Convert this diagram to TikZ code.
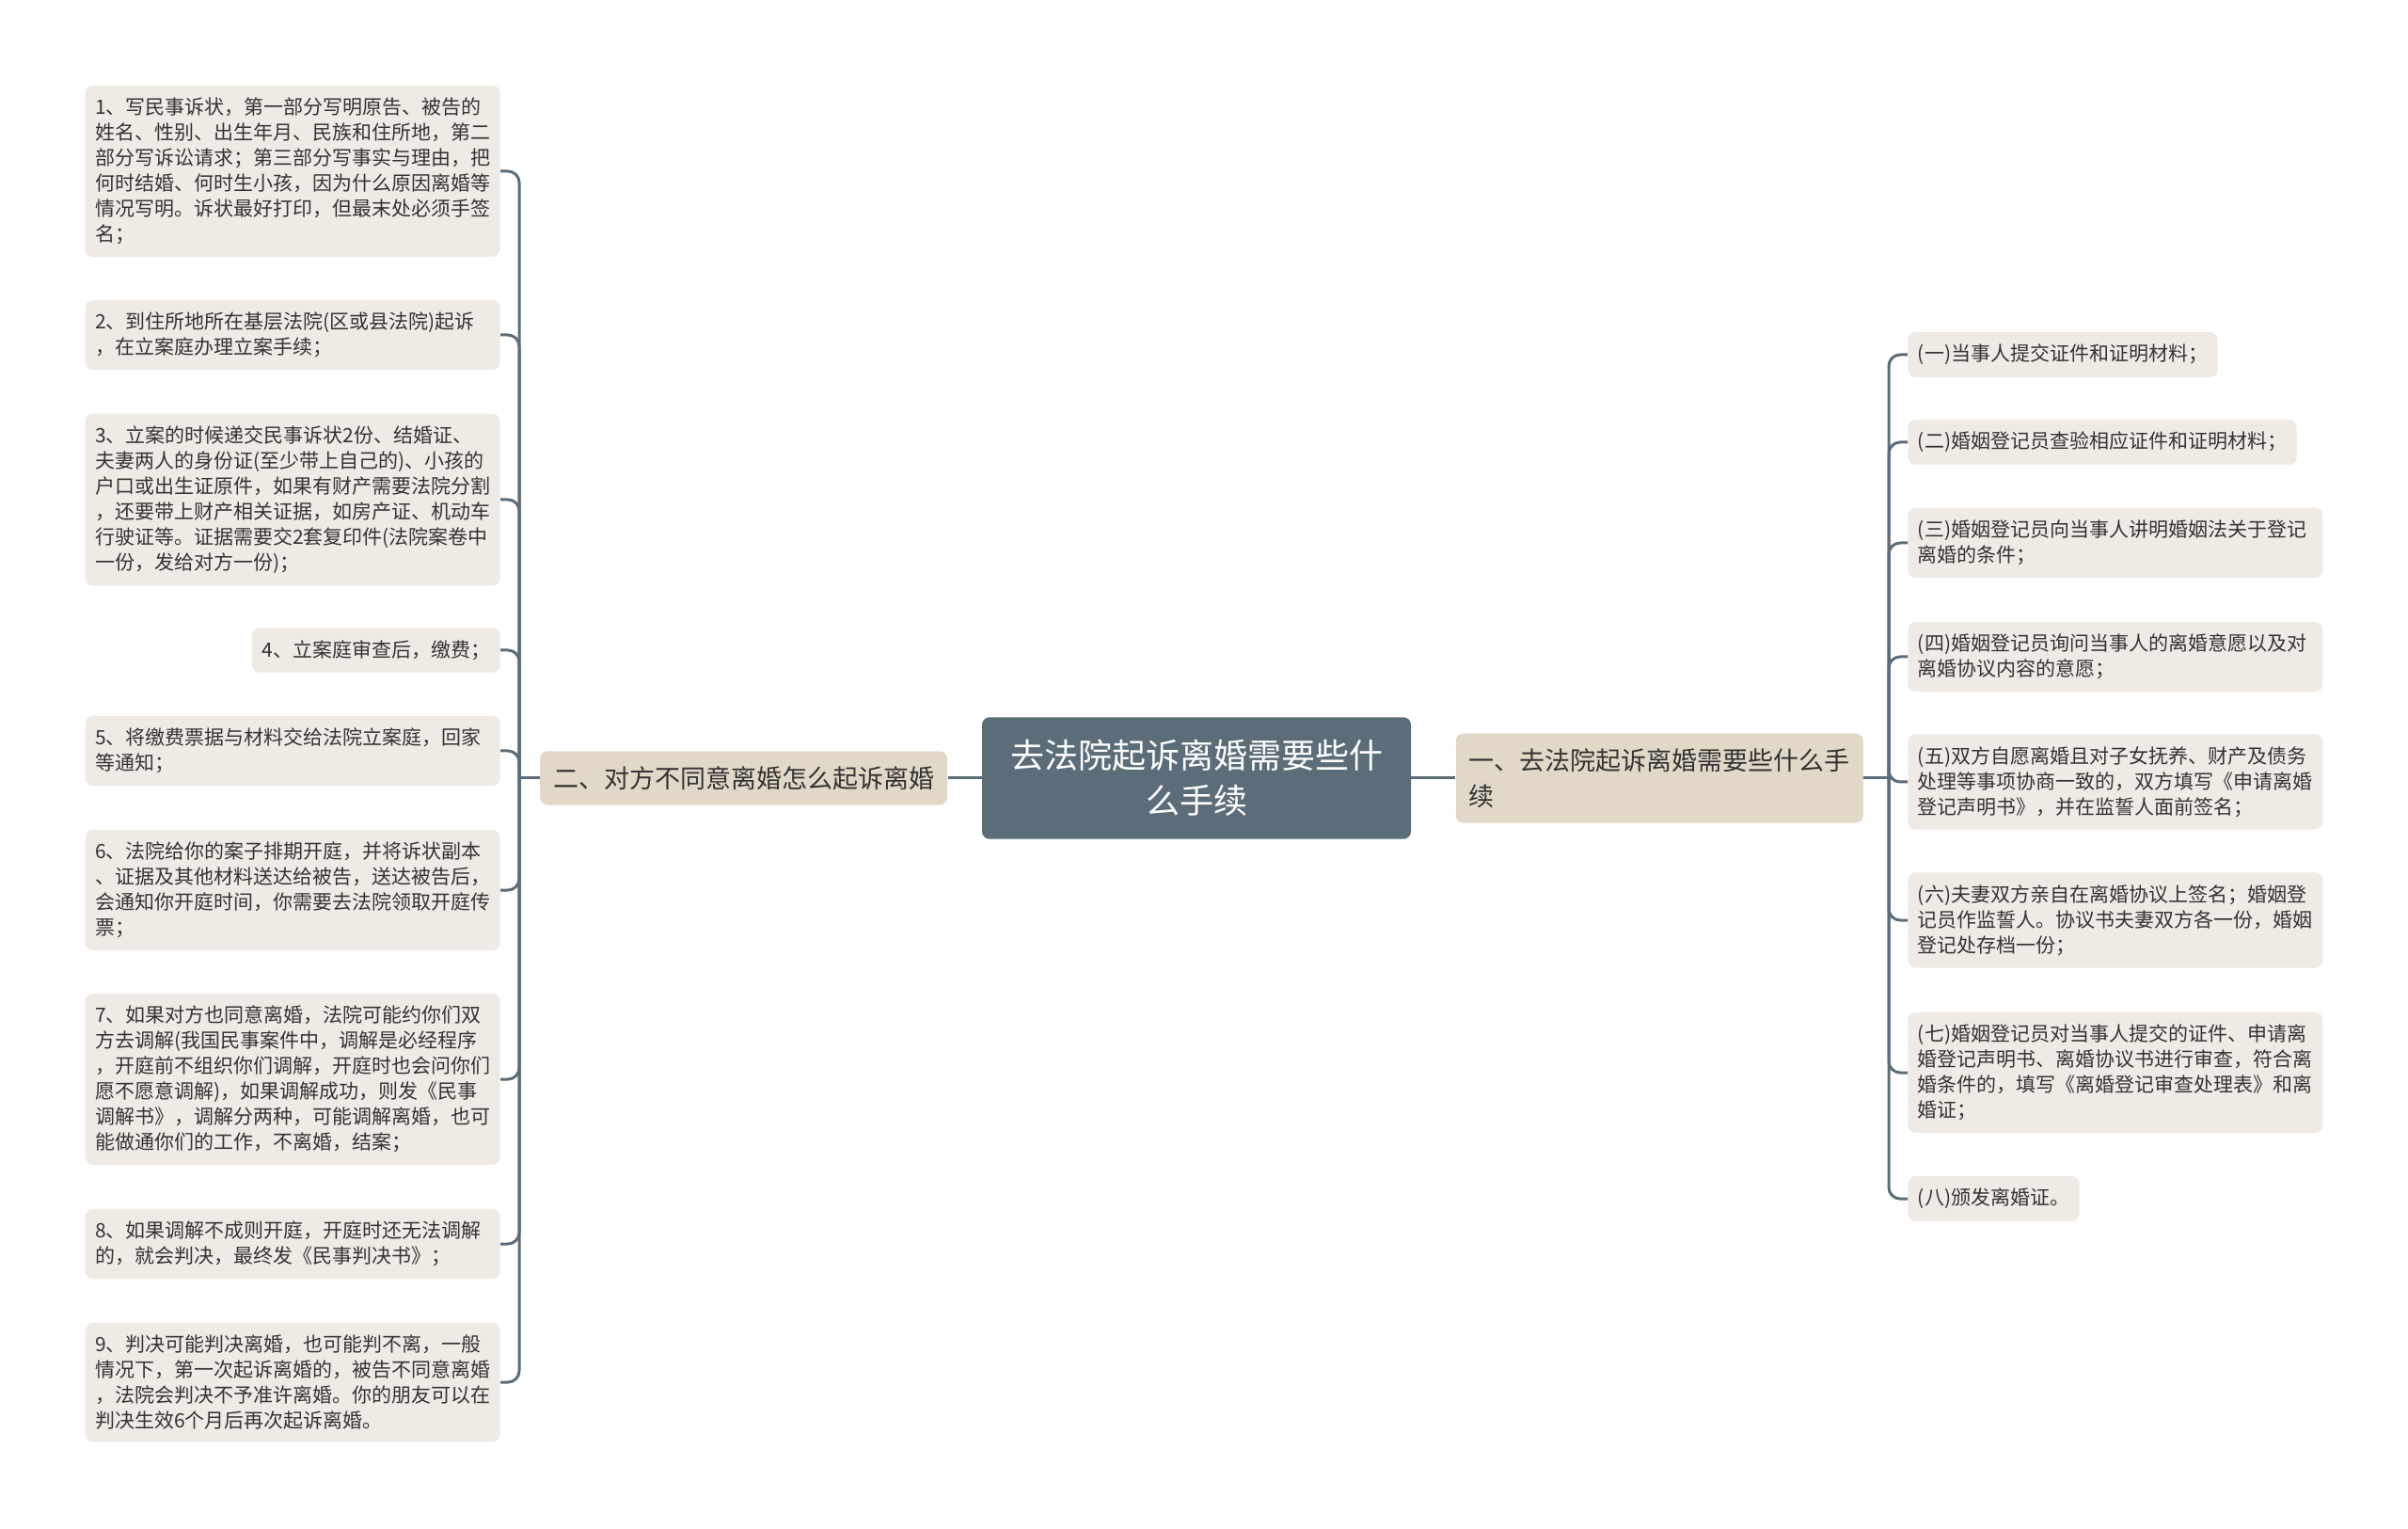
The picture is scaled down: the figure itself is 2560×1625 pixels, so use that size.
\documentclass[tikz,border=0pt]{standalone}
\usepackage{fontspec}
\setmainfont{Noto Sans CJK SC}
\usepackage{xcolor}
\usetikzlibrary{positioning}
\definecolor{slate}{HTML}{5B6D79}
\definecolor{brfill}{HTML}{E1D8C8}
\definecolor{lffill}{HTML}{EFEBE4}
\definecolor{txt}{HTML}{333333}
\tikzstyle{ctr}=[fill=slate, text=white, rounded corners=4pt, align=center,
		font=\fontsize{18}{24}\selectfont, inner xsep=15pt, inner ysep=12pt]
\tikzstyle{br}=[fill=brfill, text=txt, rounded corners=4pt, align=left,
		font=\fontsize{13.5}{19}\selectfont, inner xsep=7pt, inner ysep=8pt]
\tikzstyle{lf}=[fill=lffill, text=txt, rounded corners=4pt, align=left,
		font=\fontsize{10.5}{13.5}\selectfont, inner xsep=5.25pt, inner ysep=6.5pt]
\tikzstyle{lfw}=[lf, text width=210pt]
\tikzstyle{ln}=[draw=slate, line width=1.5pt, rounded corners=6pt]

\begin{document}
\begin{tikzpicture}[x=0.5pt, y=-0.5pt]
    \fill[white] (0,0) rectangle (2560,1625);
    \node[ctr] (top) at (1272,827) {去法院起诉离婚需要些什\\么手续};
    \node[br, left=18pt of top] (lb) {二、对方不同意离婚怎么起诉离婚};
    \node[br, right=23.5pt of top] (rb) {一、去法院起诉离婚需要些什么手\\续};
    \coordinate (lj) at (552,827);
    \coordinate (rj) at (2008,827);

    \node[lfw, anchor=east] (l1) at (532,182) {1、写民事诉状，第一部分写明原告、被告的\\姓名、性别、出生年月、民族和住所地，第二\\部分写诉讼请求；第三部分写事实与理由，把\\何时结婚、何时生小孩，因为什么原因离婚等\\情况写明。诉状最好打印，但最末处必须手签\\名；};
    \node[lfw, anchor=east] (l2) at (532,356) {2、到住所地所在基层法院(区或县法院)起诉\\，在立案庭办理立案手续；};
    \node[lfw, anchor=east] (l3) at (532,531) {3、立案的时候递交民事诉状2份、结婚证、\\夫妻两人的身份证(至少带上自己的)、小孩的\\户口或出生证原件，如果有财产需要法院分割\\，还要带上财产相关证据，如房产证、机动车\\行驶证等。证据需要交2套复印件(法院案卷中\\一份，发给对方一份)；};
    \node[lf, anchor=east] (l4) at (532,691) {4、立案庭审查后，缴费；};
    \node[lfw, anchor=east] (l5) at (532,798) {5、将缴费票据与材料交给法院立案庭，回家\\等通知；};
    \node[lfw, anchor=east] (l6) at (532,946) {6、法院给你的案子排期开庭，并将诉状副本\\、证据及其他材料送达给被告，送达被告后，\\会通知你开庭时间，你需要去法院领取开庭传\\票；};
    \node[lfw, anchor=east] (l7) at (532,1147) {7、如果对方也同意离婚，法院可能约你们双\\方去调解(我国民事案件中，调解是必经程序\\，开庭前不组织你们调解，开庭时也会问你们\\愿不愿意调解)，如果调解成功，则发《民事\\调解书》，调解分两种，可能调解离婚，也可\\能做通你们的工作，不离婚，结案；};
    \node[lfw, anchor=east] (l8) at (532,1322) {8、如果调解不成则开庭，开庭时还无法调解\\的，就会判决，最终发《民事判决书》；};
    \node[lfw, anchor=east] (l9) at (532,1469) {9、判决可能判决离婚，也可能判不离，一般\\情况下，第一次起诉离婚的，被告不同意离婚\\，法院会判决不予准许离婚。你的朋友可以在\\判决生效6个月后再次起诉离婚。};

    \node[lf, anchor=west] (r1) at (2028,377) {(一)当事人提交证件和证明材料；};
    \node[lf, anchor=west] (r2) at (2028,470) {(二)婚姻登记员查验相应证件和证明材料；};
    \node[lfw, anchor=west] (r3) at (2028,577) {(三)婚姻登记员向当事人讲明婚姻法关于登记\\离婚的条件；};
    \node[lfw, anchor=west] (r4) at (2028,698) {(四)婚姻登记员询问当事人的离婚意愿以及对\\离婚协议内容的意愿；};
    \node[lfw, anchor=west] (r5) at (2028,831) {(五)双方自愿离婚且对子女抚养、财产及债务\\处理等事项协商一致的，双方填写《申请离婚\\登记声明书》，并在监誓人面前签名；};
    \node[lfw, anchor=west] (r6) at (2028,978) {(六)夫妻双方亲自在离婚协议上签名；婚姻登\\记员作监誓人。协议书夫妻双方各一份，婚姻\\登记处存档一份；};
    \node[lfw, anchor=west] (r7) at (2028,1140) {(七)婚姻登记员对当事人提交的证件、申请离\\婚登记声明书、离婚协议书进行审查，符合离\\婚条件的，填写《离婚登记审查处理表》和离\\婚证；};
    \node[lf, anchor=west] (r8) at (2028,1274) {(八)颁发离婚证。};

    \draw[ln] (top) -- (lb);
    \draw[ln] (top) -- (rb);
    \draw[ln] (lb.west) -- (lj);
    \draw[ln] (rb.east) -- (rj);
    \draw[ln] (lj) |- (l1.east);
    \draw[ln] (lj) |- (l2.east);
    \draw[ln] (lj) |- (l3.east);
    \draw[ln] (lj) |- (l4.east);
    \draw[ln] (lj) |- (l5.east);
    \draw[ln] (lj) |- (l6.east);
    \draw[ln] (lj) |- (l7.east);
    \draw[ln] (lj) |- (l8.east);
    \draw[ln] (lj) |- (l9.east);
    \draw[ln] (rj) |- (r1.west);
    \draw[ln] (rj) |- (r2.west);
    \draw[ln] (rj) |- (r3.west);
    \draw[ln] (rj) |- (r4.west);
    \draw[ln] (rj) |- (r5.west);
    \draw[ln] (rj) |- (r6.west);
    \draw[ln] (rj) |- (r7.west);
    \draw[ln] (rj) |- (r8.west);
\end{tikzpicture}
\end{document}
